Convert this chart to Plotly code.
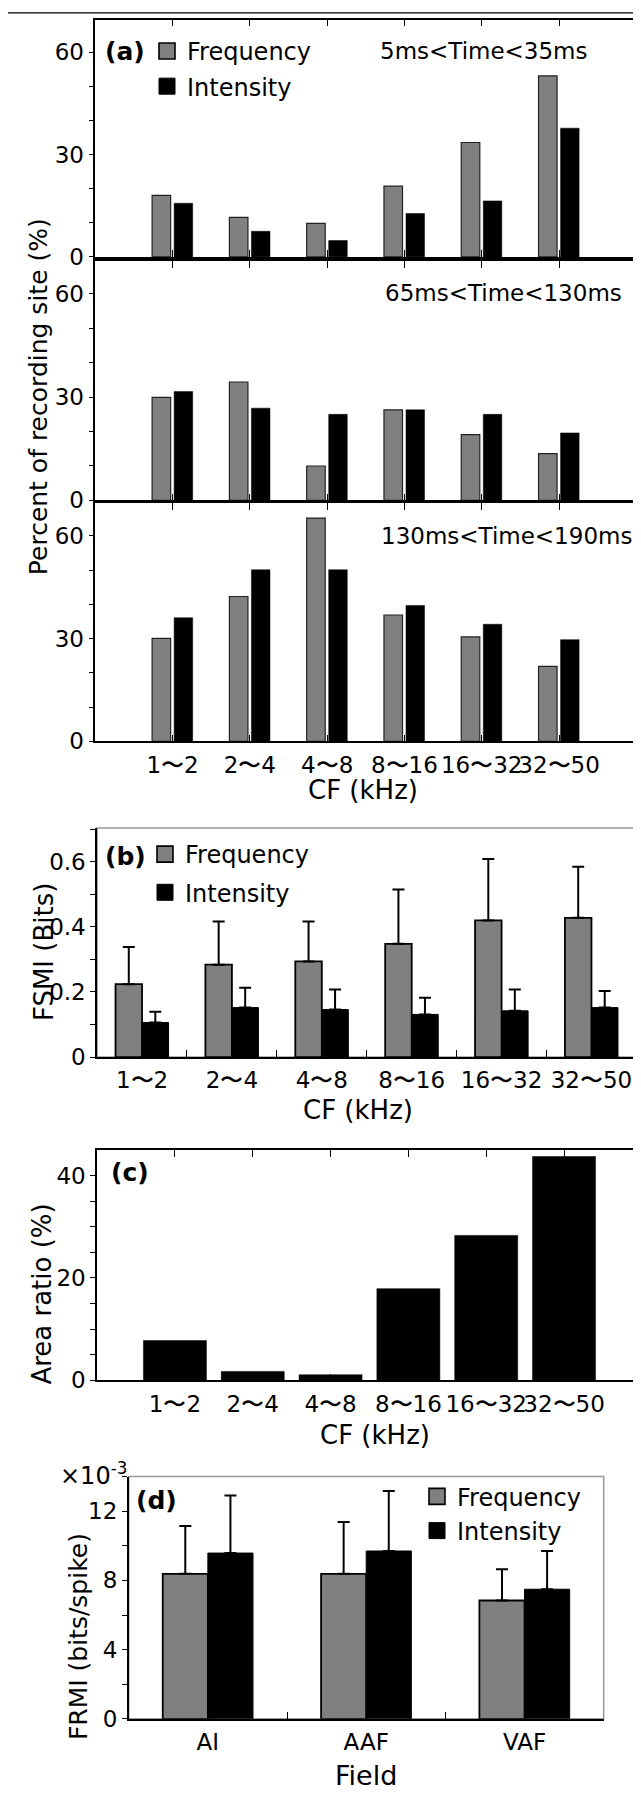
import plotly.graph_objects as go

# ---------------- data ----------------
cf_labels = ["1〜2", "2〜4", "4〜8", "8〜16", "16〜32", "32〜50"]

a1_freq = [18.0, 11.6, 9.8, 20.7, 33.5, 53.0]
a1_int = [15.7, 7.5, 4.8, 12.7, 16.4, 37.7]
a2_freq = [29.9, 34.4, 10.0, 26.3, 19.1, 13.6]
a2_int = [31.6, 26.8, 25.0, 26.3, 25.0, 19.6]
a3_freq = [30.1, 42.3, 65.2, 36.9, 30.5, 21.9]
a3_int = [36.1, 50.1, 50.1, 39.7, 34.2, 29.7]
time_windows = ["5ms<Time<35ms", "65ms<Time<130ms", "130ms<Time<190ms"]

b_freq = [0.224, 0.284, 0.294, 0.348, 0.420, 0.428]
b_freq_err = [0.114, 0.133, 0.123, 0.167, 0.189, 0.157]
b_int = [0.106, 0.152, 0.146, 0.131, 0.142, 0.152]
b_int_err = [0.033, 0.061, 0.062, 0.051, 0.066, 0.051]

c_area = [7.75, 1.74, 1.09, 17.9, 28.3, 43.7]

d_fields = ["AI", "AAF", "VAF"]
d_freq = [8.38, 8.38, 6.84]
d_freq_err = [2.77, 3.00, 1.80]
d_int = [9.58, 9.70, 7.49]
d_int_err = [3.32, 3.46, 2.21]

series_names = ["Frequency", "Intensity"]

# ---------------- helpers ----------------
W, H = 641, 1796
FONT = "DejaVu Sans"
GRAY = "#808080"


def X(px):
    return px / W


def Y(py):
    return 1 - py / H


fig = go.Figure()

# ---------------- panel (a) ----------------
a_sets = [(a1_freq, a1_int), (a2_freq, a2_int), (a3_freq, a3_int)]
for i, (fr, it) in enumerate(a_sets):
    ax = "" if i == 0 else str(i + 1)
    fig.add_trace(go.Bar(x=cf_labels, y=fr, name=series_names[0], xaxis="x" + ax, yaxis="y" + ax,
                         marker=dict(color=GRAY, line=dict(color="#222", width=1.2)),
                         width=0.24, offset=-0.265, showlegend=False))
    fig.add_trace(go.Bar(x=cf_labels, y=it, name=series_names[1], xaxis="x" + ax, yaxis="y" + ax,
                         marker=dict(color="black", line=dict(color="black", width=0.5)),
                         width=0.24, offset=0.02, showlegend=False))

# ---------------- panel (b) ----------------
fig.add_trace(go.Bar(x=cf_labels, y=b_freq, name=series_names[0], xaxis="x4", yaxis="y4",
                     marker=dict(color=GRAY, line=dict(color="black", width=1.8)),
                     width=0.295, offset=-0.295, showlegend=False,
                     error_y=dict(type="data", array=b_freq_err, arrayminus=[0] * 6, symmetric=False,
                                  color="black", thickness=2, width=6)))
fig.add_trace(go.Bar(x=cf_labels, y=b_int, name=series_names[1], xaxis="x4", yaxis="y4",
                     marker=dict(color="black", line=dict(color="black", width=1)),
                     width=0.295, offset=0.0, showlegend=False,
                     error_y=dict(type="data", array=b_int_err, arrayminus=[0] * 6, symmetric=False,
                                  color="black", thickness=2, width=6)))

# ---------------- panel (c) ----------------
fig.add_trace(go.Bar(x=cf_labels, y=c_area, name="Area ratio", xaxis="x5", yaxis="y5",
                     marker=dict(color="black", line=dict(color="black", width=0.5)),
                     width=0.81, offset=-0.405, showlegend=False))

# ---------------- panel (d) ----------------
fig.add_trace(go.Bar(x=d_fields, y=d_freq, name=series_names[0], xaxis="x6", yaxis="y6",
                     marker=dict(color=GRAY, line=dict(color="black", width=1.8)),
                     width=0.285, offset=-0.285, showlegend=False,
                     error_y=dict(type="data", array=d_freq_err, arrayminus=[0] * 3, symmetric=False,
                                  color="black", thickness=2, width=6)))
fig.add_trace(go.Bar(x=d_fields, y=d_int, name=series_names[1], xaxis="x6", yaxis="y6",
                     marker=dict(color="black", line=dict(color="black", width=1)),
                     width=0.285, offset=0.0, showlegend=False,
                     error_y=dict(type="data", array=d_int_err, arrayminus=[0] * 3, symmetric=False,
                                  color="black", thickness=2, width=6)))

# legend entries (square swatches, as in the figure)
swatches = [dict(color=GRAY, line=dict(color="black", width=1.6)),
            dict(color="black", line=dict(color="black", width=1))]
for leg, ax in [("legend", ("x", "y")), ("legend2", ("x4", "y4")), ("legend3", ("x6", "y6"))]:
    for j, nm in enumerate(series_names):
        fig.add_trace(go.Scatter(x=[None], y=[None], mode="markers", name=nm,
                                 xaxis=ax[0], yaxis=ax[1], legend=leg, legendgroup=leg + nm,
                                 marker=dict(symbol="square", size=16, **swatches[j]),
                                 hoverinfo="skip"))

tickfont = dict(family=FONT, size=23, color="black")

layout = dict(
    width=W, height=H, autosize=False,
    margin=dict(l=0, r=0, t=0, b=0),
    paper_bgcolor="white", plot_bgcolor="white",
    font=dict(family=FONT, color="black"),
    barmode="group",
)

# panel (a) axes
a_domains = [(11.7, 250.7), (255.0, 496.0), (499.0, 738.7)]
for i, (top, bot) in enumerate(a_domains):
    k = "" if i == 0 else str(i + 1)
    layout["xaxis" + k] = dict(domain=[X(87.3), X(628.3)], anchor="y" + k, type="category",
                               range=[-1, 6], showline=True, linecolor="black", linewidth=1.5,
                               mirror="allticks", ticks="inside", ticklen=7, tickwidth=1.2,
                               tickcolor="black", showticklabels=(i == 2), tickfont=tickfont,
                               tickangle=0, ticklabelstandoff=2, showgrid=False, zeroline=False)
    layout["yaxis" + k] = dict(domain=[Y(bot), Y(top)], anchor="x" + k, range=[0, 69.5],
                               tickvals=[0, 30, 60], showline=True, linecolor="black", linewidth=1.5,
                               mirror="allticks", ticks="outside", ticklen=5, tickwidth=1.2,
                               tickcolor="black", tickfont=tickfont, showgrid=False, zeroline=False,
                               minor=dict(dtick=10, ticks="outside", ticklen=5, tickcolor="black",
                                          showgrid=False))

# panel (b)
layout["xaxis4"] = dict(domain=[X(89.1), X(628.4)], anchor="y4", type="category",
                        showline=True, linecolor="black", linewidth=1.5, ticks="inside",
                        tickson="boundaries", ticklen=7, tickwidth=1.2, tickcolor="black",
                        tickfont=tickfont, tickangle=0, ticklabelstandoff=2,
                        showgrid=False, zeroline=False)
layout["yaxis4"] = dict(domain=[Y(1056.7), Y(826)], anchor="x4", range=[0, 0.704],
                        tickvals=[0, 0.2, 0.4, 0.6], ticktext=["0", "0.2", "0.4", "0.6"],
                        showline=True, linecolor="black", linewidth=1.5, ticks="outside",
                        ticklen=5, tickwidth=1.2, tickcolor="black", tickfont=tickfont,
                        showgrid=False, zeroline=False,
                        minor=dict(dtick=0.1, ticks="outside", ticklen=5, tickcolor="black",
                                   showgrid=False))

# panel (c)
layout["xaxis5"] = dict(domain=[X(89.1), X(628.4)], anchor="y5", type="category",
                        range=[-1, 5.93], showline=True, linecolor="black", linewidth=1.5,
                        mirror="allticks", ticks="inside", ticklen=7, tickwidth=1.2,
                        tickcolor="black", tickfont=tickfont, tickangle=0, ticklabelstandoff=2,
                        showgrid=False, zeroline=False)
layout["yaxis5"] = dict(domain=[Y(1382.3), Y(1150.7)], anchor="x5", range=[0, 44.9],
                        tickvals=[0, 20, 40], showline=True, linecolor="black", linewidth=1.5,
                        mirror="allticks", ticks="outside", ticklen=5, tickwidth=1.2,
                        tickcolor="black", tickfont=tickfont, showgrid=False, zeroline=False,
                        minor=dict(dtick=5, ticks="outside", ticklen=5, tickcolor="black",
                                   showgrid=False))

# panel (d)
layout["xaxis6"] = dict(domain=[X(120.7), X(595.7)], anchor="y6", type="category",
                        showline=True, linecolor="black", linewidth=1.5, ticks="inside",
                        tickson="boundaries", ticklen=7, tickwidth=1.2, tickcolor="black",
                        tickfont=tickfont, tickangle=0, ticklabelstandoff=2,
                        showgrid=False, zeroline=False)
layout["yaxis6"] = dict(domain=[Y(1723.3), Y(1479.3)], anchor="x6", range=[0, 14],
                        tickvals=[0, 4, 8, 12], showline=True, linecolor="black", linewidth=1.5,
                        ticks="outside", ticklen=5, tickwidth=1.2, tickcolor="black",
                        tickfont=tickfont, showgrid=False, zeroline=False,
                        minor=dict(dtick=2, ticks="outside", ticklen=5, tickcolor="black",
                                   showgrid=False))

legfont = dict(family=FONT, size=24, color="black")
common_leg = dict(xanchor="left", yanchor="top", font=legfont, bgcolor="rgba(0,0,0,0)",
                  borderwidth=0, itemsizing="trace")
layout["legend"] = dict(x=X(139), y=Y(21), tracegroupgap=1, **common_leg)
layout["legend2"] = dict(x=X(137), y=Y(830), tracegroupgap=4, **common_leg)
layout["legend3"] = dict(x=X(409), y=Y(1477), tracegroupgap=0, **common_leg)

fig.update_layout(**layout)

# frames of (b) and (d): gray top/right
for k in ["4", "6"]:
    fig.add_shape(type="rect", xref="x" + k + " domain", yref="y" + k + " domain",
                  x0=0, x1=1, y0=0, y1=1, line=dict(color="#999999", width=1.5), layer="below")

# page rule at top
fig.add_shape(type="line", xref="paper", yref="paper", x0=0, x1=X(633), y0=Y(5), y1=Y(5),
              line=dict(color="black", width=1.3))

ann = []


def text(x, y, s, size=23, xanchor="center", bold=False, angle=0):
    ann.append(dict(x=X(x), y=Y(y), xref="paper", yref="paper", text=("<b>%s</b>" % s) if bold else s,
                    showarrow=False, xanchor=xanchor, yanchor="middle", textangle=angle,
                    font=dict(family=FONT, size=size, color="black")))


# panel labels
text(117, 44, "(a)", size=25, bold=True)
text(117, 855, "(b)", size=25, bold=True)
text(122, 1173, "(c)", size=25, bold=True)
text(148, 1503, "(d)", size=25, bold=True)

# time window labels
text(370, 43, time_windows[0], xanchor="left")
text(375, 287, time_windows[1], xanchor="left")
text(371, 532, time_windows[2], xanchor="left")

# axis titles
text(30, 392, "Percent of recording site (%)", size=25, angle=-90)
text(355, 788, "CF (kHz)", size=26)
text(36, 951, "FSMI (Bits)", size=26, angle=-90)
text(350, 1110, "CF (kHz)", size=26)
text(34, 1296, "Area ratio (%)", size=26, angle=-90)
text(367, 1437, "CF (kHz)", size=26)
text(70, 1641, "FRMI (bits/spike)", size=25, angle=-90)
text(358, 1780, "Field", size=27)
ann.append(dict(x=X(50), y=Y(1477), xref="paper", yref="paper", text="×10<sup>-3</sup>",
                showarrow=False, xanchor="left", yanchor="middle",
                font=dict(family=FONT, size=24, color="black")))

fig.update_layout(annotations=ann)
fig.write_html("out.html")
